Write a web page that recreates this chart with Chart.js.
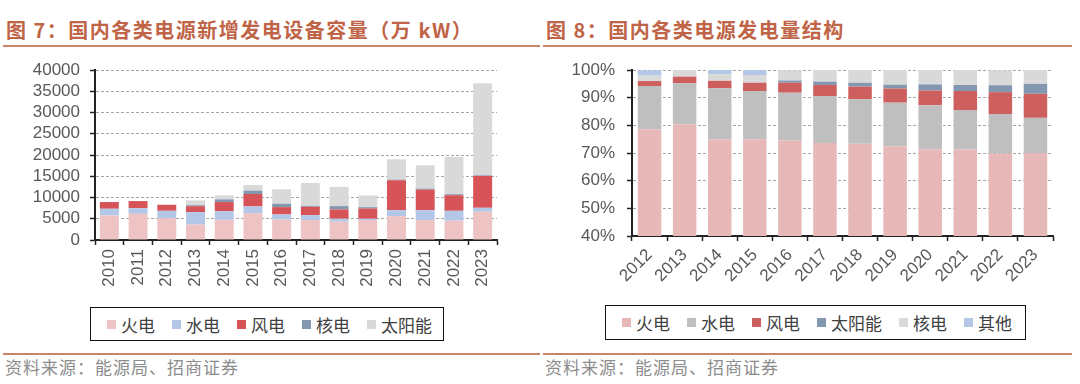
<!DOCTYPE html>
<html><head><meta charset="utf-8">
<script src="https://cdn.jsdelivr.net/npm/chart.js@4/dist/chart.umd.min.js"></script>
<style>
body{margin:0;width:1080px;height:384px;background:#fff;position:relative;overflow:hidden;font-family:'Noto Sans CJK SC',sans-serif;}
.title{position:absolute;top:15px;font-size:20px;font-weight:bold;color:#BF6446;letter-spacing:1.5px;line-height:30px;white-space:nowrap}
.hline{position:absolute;height:2px;background:#CB8566}
.src{position:absolute;top:356px;font-size:17px;color:#8C8C8C;line-height:22px;letter-spacing:1px;white-space:nowrap}
.box{position:absolute;border:1.5px solid #111;box-sizing:border-box;display:flex;align-items:center;padding-left:16px;gap:17px}
.it{display:flex;align-items:center;font-size:17px;color:#404040;white-space:nowrap}
.sq{width:9px;height:9px;margin-right:5px}
.cw{position:absolute;top:55px;width:540px;height:245px}
canvas{display:block}
</style></head>
<body>
<div class="title" style="left:6px">图 7：国内各类电源新增发电设备容量（万 kW）</div>
<div class="title" style="left:546px">图 8：国内各类电源发电量结构</div>
<div class="hline" style="left:3px;width:537px;top:45px"></div>
<div class="hline" style="left:543px;width:529px;top:45px"></div>
<div class="cw" style="left:0"><canvas id="c1" width="540" height="245"></canvas></div>
<div class="cw" style="left:540px"><canvas id="c2" width="540" height="245"></canvas></div>
<div class="box" id="lg1" style="left:90px;top:307px;width:354px;height:34px"></div>
<div class="box" id="lg2" style="left:605px;top:305px;width:421px;height:35px"></div>
<div class="hline" style="left:3px;width:537px;top:353px"></div>
<div class="hline" style="left:543px;width:529px;top:353px"></div>
<div class="src" style="left:5px">资料来源：能源局、招商证券</div>
<div class="src" style="left:545px">资料来源：能源局、招商证券</div>
<script>
// ---- Chart 7: new installed capacity (万kW)
const years7 = ['2010','2011','2012','2013','2014','2015','2016','2017','2018','2019','2020','2021','2022','2023'];
const names7 = ['火电','水电','风电','核电','太阳能'];
const thermal7 = [5770,6160,5140,3630,4740,6320,4820,4690,4300,4690,5620,4690,4530,6640];
const hydro7   = [1580,1340,1730,2930,2050,1580,1180,1170,700,310,1410,2340,2340,940];
const wind7    = [1580,1660,1430,1400,2140,2920,1740,1950,2190,2420,7030,4840,3670,7490];
const nuclear7 = [0,0,0,220,630,790,790,220,780,310,150,240,240,160];
const solar7   = [0,0,0,1140,950,1350,3400,5400,4530,2740,4770,5460,8750,21630];
const yTicks7 = [0,5000,10000,15000,20000,25000,30000,35000,40000];
const colors7 = ['#EDC3C4','#B4C7E7','#D65457','#8497B0','#D9D9D9'];

// ---- Chart 8: generation structure (%)
const years8 = ['2012','2013','2014','2015','2016','2017','2018','2019','2020','2021','2022','2023'];
const names8 = ['火电','水电','风电','太阳能','核电','其他'];
const thermal8 = [78.6,80.4,75.0,75.0,74.5,73.6,73.3,72.4,71.4,71.3,69.8,69.9];
const hydro8   = [15.6,14.8,18.4,17.4,17.3,17.0,16.1,15.8,15.9,14.2,14.3,12.8];
const wind8    = [1.8,2.4,2.7,3.0,3.6,4.0,4.6,5.1,5.3,6.9,7.9,8.7];
const solar8   = [0,0,0,0,0.8,1.2,1.4,1.4,2.2,2.2,2.5,3.6];
const nuclear8 = [2.0,2.4,2.4,2.8,3.7,4.2,4.6,5.3,5.2,5.4,5.4,5.0];
const other8   = [1.9,0,1.6,1.8,0,0,0,0,0,0,0,0];
const yTicks8 = [40,50,60,70,80,90,100];
const colors8 = ['#E6B9B8','#BFBFBF','#CD5F5E','#8497B0','#D9D9D9','#B4C7E7'];

Chart.defaults.font.family = "'Liberation Sans', Arial, sans-serif";
Chart.defaults.animation = false;

function legend(id, names, colors){
  const el = document.getElementById(id);
  names.forEach((n,i)=>{
    const d = document.createElement('div'); d.className='it';
    d.innerHTML = '<span class="sq" style="background:'+colors[i]+'"></span><span>'+n+'</span>';
    el.appendChild(d);
  });
}
legend('lg1', names7, colors7);
legend('lg2', names8, colors8);

function build(id, labels, series, names, colors, yt, opts){
  const ds = series.map((s,i)=>({label:names[i], data:s, backgroundColor:colors[i], borderWidth:0,
    categoryPercentage:1, barPercentage:opts.bp}));
  new Chart(document.getElementById(id), {
    type:'bar',
    data:{labels, datasets:ds},
    options:{
      responsive:false, animation:false,
      layout:{padding:{left:0,right:opts.pr,top:opts.pt,bottom:0}},
      plugins:{legend:{display:false}, tooltip:{enabled:false}},
      scales:{
        x:{stacked:true,
          grid:{display:true,drawOnChartArea:false,drawTicks:true,tickLength:5,tickColor:'#222',tickWidth:1.5,offset:true},
          border:{display:true,color:'#222',width:2},
          ticks:{minRotation:opts.rot,maxRotation:opts.rot,padding:opts.xpad,color:'#595959',font:{size:17},autoSkip:false},
          afterFit:s=>{s.height=opts.xh; s.paddingLeft=0; s.paddingRight=0;}
        },
        y:{stacked:true,min:yt[0],max:yt[yt.length-1],
          afterBuildTicks:s=>{s.ticks = yt.map(v=>({value:v}));},
          ticks:{padding:opts.ypad,color:'#595959',font:{size:17},callback:opts.fmt,autoSkip:false},
          grid:{color:'#A6A6A6',lineWidth:1,tickLength:5,tickColor:'#222',tickWidth:1.5,tickBorderDash:[]},
          border:{display:true,color:'#222',width:2,dash:[3,2]},
          afterFit:s=>{s.width=opts.yw; s.paddingTop=0; s.paddingBottom=0;}
        }
      }
    }
  });
}
build('c1', years7, [thermal7,hydro7,wind7,nuclear7,solar7], names7, colors7, yTicks7,
  {bp:0.66, pr:43, pt:15, rot:90, xpad:4, xh:60, ypad:10, yw:95, fmt:v=>String(v)});
build('c2', years8, [thermal8,hydro8,wind8,solar8,nuclear8,other8], names8, colors8, yTicks8,
  {bp:0.67, pr:27, pt:15, rot:45, xpad:4, xh:64, ypad:12, yw:92, fmt:v=>v+'%'});
</script>
</body></html>
